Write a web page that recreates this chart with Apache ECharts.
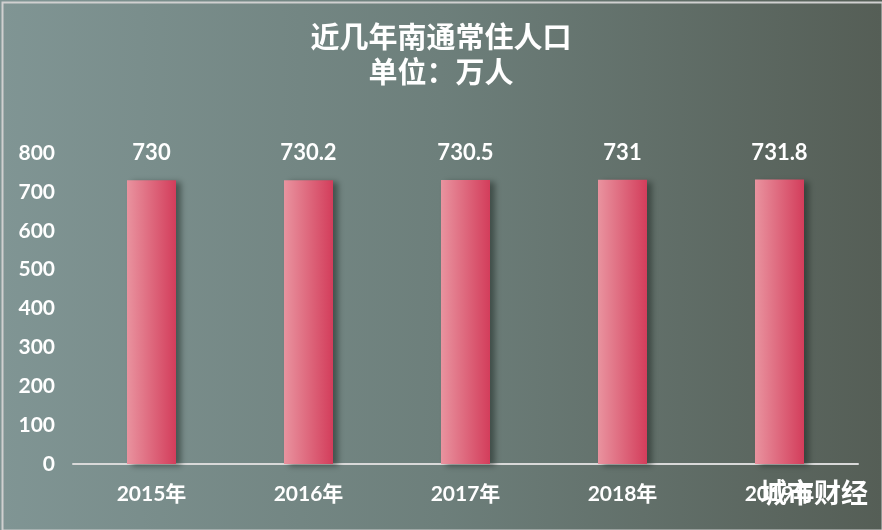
<!DOCTYPE html>
<html>
<head>
<meta charset="utf-8">
<script src="https://cdn.jsdelivr.net/npm/echarts@6/dist/echarts.min.js"></script>
<style>
html,body{margin:0;padding:0;background:#d0d0d0;}
#c{width:882px;height:530px;}
</style>
</head>
<body>
<div id="c"></div>
<script>
const categories = ['2015年','2016年','2017年','2018年','2019年'];
const values = [730, 730.2, 730.5, 731, 731.8];
const titleLines = ['近几年南通常住人口', '单位：万人'];
const watermark = '城市财经';

const FONT = "Lato, 'Noto Sans CJK SC', sans-serif";
const chart = echarts.init(document.getElementById('c'));
chart.setOption({
  backgroundColor: {
    type: 'linear', x: 0, y: 0, x2: 1, y2: 0,
    colorStops: [{offset: 0, color: '#809594'}, {offset: 0.5, color: '#6d7f7b'}, {offset: 1, color: '#555e56'}]
  },
  title: {
    text: titleLines.join('\n'),
    left: 'center',
    top: 14,
    textStyle: {color: '#ffffff', fontSize: 29, fontWeight: 'bold', fontFamily: "'Noto Sans CJK SC', sans-serif", lineHeight: 35}
  },
  grid: {left: 73, right: 24, top: 153, bottom: 66},
  xAxis: {
    type: 'category',
    data: categories,
    axisLine: {show: true, lineStyle: {color: '#d9d9d9', width: 2}},
    axisTick: {show: false},
    axisLabel: {color: '#ffffff', fontSize: 21, fontWeight: 'bold', fontFamily: FONT, margin: 20}
  },
  yAxis: {
    type: 'value',
    min: 0, max: 800, interval: 100,
    splitLine: {show: false},
    axisLine: {show: false},
    axisTick: {show: false},
    axisLabel: {color: '#ffffff', fontSize: 21, fontWeight: 'bold', fontFamily: FONT, margin: 18}
  },
  series: [{
    type: 'bar',
    data: values,
    barWidth: 49,
    itemStyle: {
      color: {
        type: 'linear', x: 0, y: 0, x2: 1, y2: 0,
        colorStops: [{offset: 0, color: '#e9939f'}, {offset: 1, color: '#d33d5b'}]
      },
      shadowColor: 'rgba(30,40,35,0.55)',
      shadowBlur: 6,
      shadowOffsetX: 5,
      shadowOffsetY: 2
    },
    label: {
      show: true, position: 'top', distance: 16,
      color: '#ffffff', fontSize: 22, fontWeight: 'bold', fontFamily: FONT
    }
  }],
  graphic: [
    {
      type: 'text', right: 14, top: 479, z: 100,
      style: {
        text: watermark, fill: '#ffffff', fontSize: 27, fontWeight: 'bold', fontFamily: "'Noto Sans CJK SC', sans-serif",
        shadowColor: 'rgba(0,0,0,0.6)', shadowBlur: 2, shadowOffsetX: 1, shadowOffsetY: 1
      }
    },
    {
      type: 'rect', left: 0, top: 0, z: 101, silent: true,
      shape: {x: 1, y: 1, width: 880, height: 528},
      style: {fill: 'none', stroke: '#d0d0d0', lineWidth: 2}
    }
  ]
});
</script>
</body>
</html>
